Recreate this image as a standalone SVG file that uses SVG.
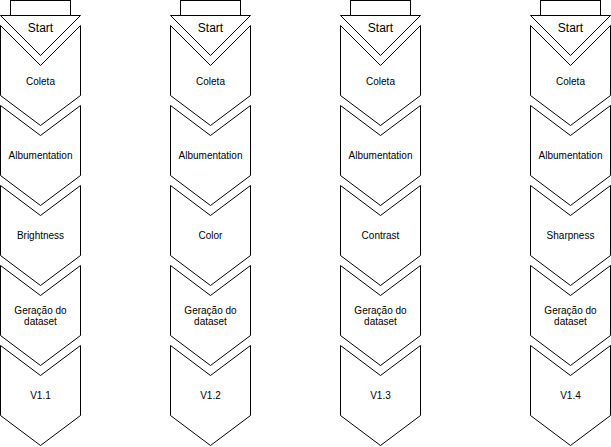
<svg xmlns="http://www.w3.org/2000/svg" width="611" height="447" viewBox="0 0 611 447">
<defs>
<style>
.s{fill:#fff;stroke:#000;stroke-width:1}
.t{font-family:"Liberation Sans",Arial,sans-serif;font-size:10px;fill:#000;text-anchor:middle}
.st{font-family:"Liberation Sans",Arial,sans-serif;font-size:12px;fill:#000;text-anchor:middle}
</style>
<g id="col">
<g id="start">
<rect class="s" x="10.5" y="0.5" width="60" height="15"/>
<polygon class="s" points="0.5,15.5 80.5,15.5 40.5,55.5"/>
<text class="st" x="40.5" y="32">Start</text>
</g>
<polygon id="coleta" class="s" points="0.5,25.5 40.5,65.5 80.5,25.5 80.5,95.5 40.5,125.5 0.5,95.5"/>
<text class="t" x="40.5" y="84.5">Coleta</text>
<polygon class="s" points="0.5,105.5 40.5,135.5 80.5,105.5 80.5,175.5 40.5,205.5 0.5,175.5"/>
<text class="t" x="40.5" y="158.5">Albumentation</text>
<polygon class="s" points="0.5,185.5 40.5,215.5 80.5,185.5 80.5,255.5 40.5,285.5 0.5,255.5"/>
<polygon class="s" points="0.5,265.5 40.5,295.5 80.5,265.5 80.5,335.5 40.5,365.5 0.5,335.5"/>
<text class="t" x="40.5" y="313.5">Geração do</text>
<text class="t" x="40.5" y="325">dataset</text>
<polygon class="s" points="0.5,345.5 40.5,375.5 80.5,345.5 80.5,415.5 40.5,445.5 0.5,415.5"/>
</g>
</defs>
<g id="connectors"/>
<g id="flow1">
<use href="#col"/>
<text class="t" x="40.5" y="238.5">Brightness</text>
<text class="t" x="40.5" y="398.5">V1.1</text>
</g>
<g id="flow2" transform="translate(170,0)">
<use href="#col"/>
<text class="t" x="40.5" y="238.5">Color</text>
<text class="t" x="40.5" y="398.5">V1.2</text>
</g>
<g id="flow3" transform="translate(340,0)">
<use href="#col"/>
<text class="t" x="40.5" y="238.5">Contrast</text>
<text class="t" x="40.5" y="398.5">V1.3</text>
</g>
<g id="flow4" transform="translate(530,0)">
<use href="#col"/>
<text class="t" x="40.5" y="238.5">Sharpness</text>
<text class="t" x="40.5" y="398.5">V1.4</text>
</g>
</svg>
